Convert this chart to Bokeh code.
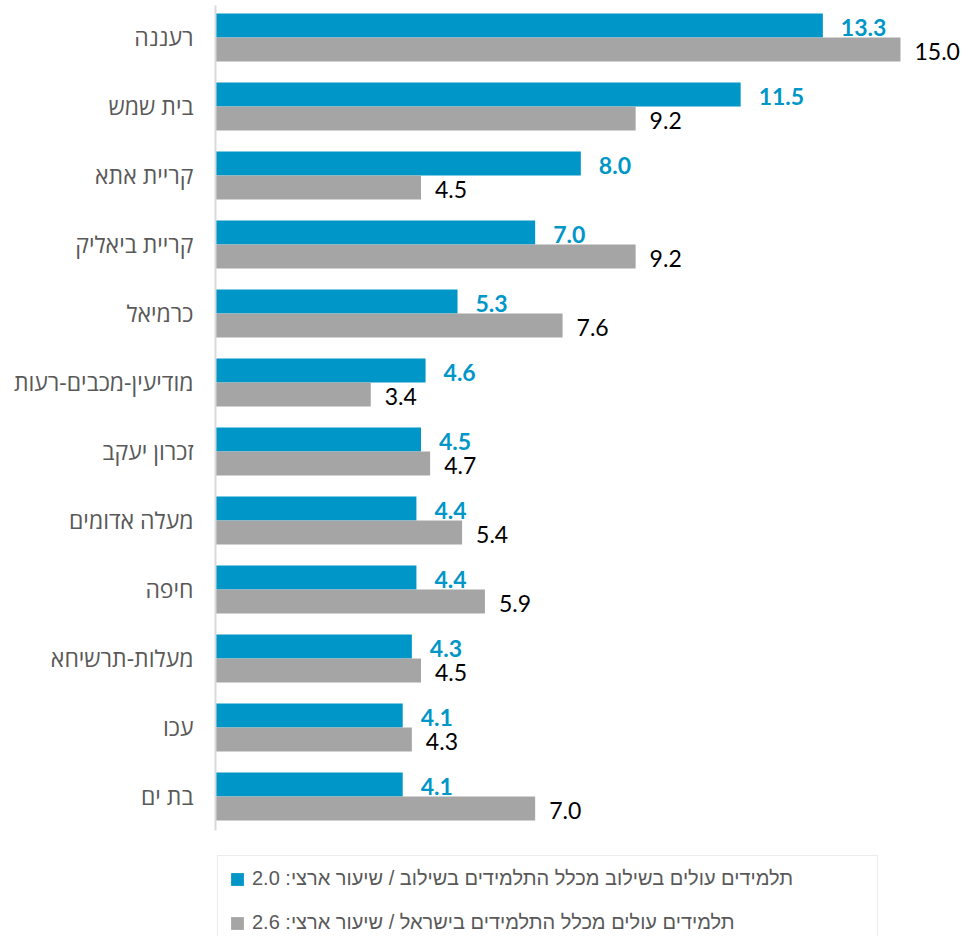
from bokeh.plotting import figure
from bokeh.models import Range1d, FixedTicker, ColumnDataSource, Legend, LegendItem
from bokeh.core.properties import value
from bokeh.transform import dodge
from bokeh.embed import file_html
from bokeh.resources import INLINE

cities = ["רעננה", "בית שמש", "קריית אתא", "קריית ביאליק", "כרמיאל", "מודיעין-מכבים-רעות",
          "זכרון יעקב", "מעלה אדומים", "חיפה", "מעלות-תרשיחא", "עכו", "בת ים"]
integration = [13.3, 11.5, 8.0, 7.0, 5.3, 4.6, 4.5, 4.4, 4.4, 4.3, 4.1, 4.1]
israel = [15.0, 9.2, 4.5, 9.2, 7.6, 3.4, 4.7, 5.4, 5.9, 4.5, 4.3, 7.0]
legend_labels = ["תלמידים עולים בשילוב מכלל התלמידים בשילוב / שיעור ארצי: 2.0",
                 "תלמידים עולים מכלל התלמידים בישראל / שיעור ארצי: 2.6"]

BLUE = "#0096C8"
GRAY = "#A5A5A5"

pos = list(range(len(cities)))
src = ColumnDataSource(dict(
    pos=pos, a=integration, b=israel,
    a_lbl=[f"{v:.1f}" for v in integration],
    b_lbl=[f"{v:.1f}" for v in israel],
))

p = figure(width=963, height=936, output_backend="svg", toolbar_location=None,
           x_range=Range1d(0, 16.38), y_range=Range1d(13.029, -0.5362),
           min_border_left=215, min_border_right=0, min_border_top=0, min_border_bottom=0)
p.title.visible = False
p.outline_line_color = None
p.xgrid.visible = False
p.ygrid.visible = False
p.xaxis.visible = False

bw = 0.348
r1 = p.hbar(y=dodge("pos", -bw / 2, range=p.y_range), right="a", left=0, height=bw,
            source=src, fill_color=BLUE, line_color=None)
r2 = p.hbar(y=dodge("pos", bw / 2, range=p.y_range), right="b", left=0, height=bw,
            source=src, fill_color=GRAY, line_color=None)

p.text(x="a", y=dodge("pos", -bw / 2, range=p.y_range), text="a_lbl", source=src,
       x_offset=18, y_offset=2, text_baseline="middle", text_align="left",
       text_font=value("Lato"), text_font_style="bold", text_font_size="23px", text_color=BLUE)
p.text(x="b", y=dodge("pos", bw / 2, range=p.y_range), text="b_lbl", source=src,
       x_offset=14, y_offset=2, text_baseline="middle", text_align="left",
       text_font=value("Lato"), text_font_size="23px", text_color="#000000")

ax = p.yaxis[0]
ax.ticker = FixedTicker(ticks=pos)
ax.bounds = (-0.464, 11.493)
ax.major_label_overrides = {i: c for i, c in enumerate(cities)}
ax.major_tick_line_color = None
ax.major_tick_out = 0
ax.major_tick_in = 0
ax.minor_tick_line_color = None
ax.axis_line_color = "#D9D9D9"
ax.axis_line_width = 2
ax.major_label_standoff = 22
ax.major_label_text_font = "Open Sans"
ax.major_label_text_font_size = "23px"
ax.major_label_text_color = "#595959"

legend = Legend(items=[LegendItem(label=legend_labels[0], renderers=[r1]),
                       LegendItem(label=legend_labels[1], renderers=[r2])],
                location=(2, -10), orientation="vertical",
                margin=0, padding=11, spacing=21,
                glyph_width=16, glyph_height=16, label_standoff=7,
                label_height=23, label_width=614,
                label_text_font="Liberation Sans", label_text_font_size="20px",
                label_text_color="#595959",
                border_line_color="#D9D9D9", border_line_width=1.5,
                background_fill_alpha=1.0)
p.add_layout(legend)

open("out.html", "w").write(file_html(p, INLINE))
